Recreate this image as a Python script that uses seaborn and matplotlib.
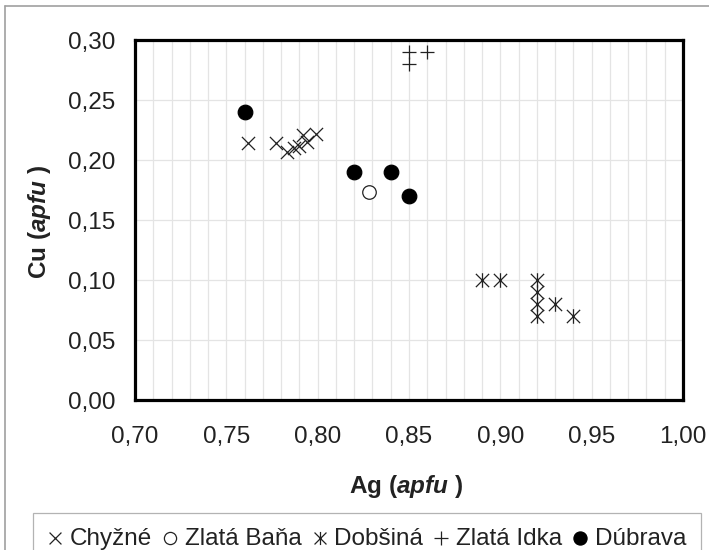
import numpy as np
import pandas as pd
import matplotlib
matplotlib.use("Agg")
import matplotlib.pyplot as plt
import seaborn as sns
from matplotlib.path import Path
from matplotlib.ticker import MultipleLocator, FuncFormatter
from matplotlib.lines import Line2D

# ---- data (Ag vs Cu, apfu) ----
chyzne_ag = [0.762, 0.777, 0.783, 0.787, 0.790, 0.792, 0.794, 0.799]
chyzne_cu = [0.214, 0.214, 0.207, 0.210, 0.212, 0.221, 0.215, 0.222]

zlata_bana_ag = [0.828]
zlata_bana_cu = [0.173]

dobsina_ag = [0.89, 0.90, 0.92, 0.92, 0.92, 0.92, 0.93, 0.94]
dobsina_cu = [0.10, 0.10, 0.10, 0.09, 0.08, 0.07, 0.08, 0.07]

zlata_idka_ag = [0.85, 0.85, 0.86]
zlata_idka_cu = [0.29, 0.28, 0.29]

dubrava_ag = [0.76, 0.82, 0.84, 0.85]
dubrava_cu = [0.24, 0.19, 0.19, 0.17]

x_ticks = [0.70, 0.75, 0.80, 0.85, 0.90, 0.95, 1.00]
y_ticks = [0.00, 0.05, 0.10, 0.15, 0.20, 0.25, 0.30]

sns.set_theme(style="white")
plt.rcParams["font.family"] = ["Liberation Sans", "DejaVu Sans"]
plt.rcParams["mathtext.fontset"] = "custom"
plt.rcParams["mathtext.rm"] = "Liberation Sans"
plt.rcParams["mathtext.bf"] = "Liberation Sans:italic:bold"

fig = plt.figure(figsize=(7.09, 5.50), dpi=100)
W, H = 709, 550
ax = fig.add_axes([135 / W, 1 - 400 / H, 548 / W, 360 / H])

star = Path([(-1, -1), (1, 1), (-1, 1), (1, -1), (0, -1.1), (0, 1.1)],
            [Path.MOVETO, Path.LINETO, Path.MOVETO, Path.LINETO, Path.MOVETO, Path.LINETO])

lw = 0.9
ink = "#222222"
sns.scatterplot(x=chyzne_ag, y=chyzne_cu, ax=ax, marker="x", s=90,
                color=ink, edgecolor=ink, linewidth=lw, label="Chyžné", zorder=3)
sns.scatterplot(x=zlata_bana_ag, y=zlata_bana_cu, ax=ax, marker="o", s=95,
                color="black", facecolor="white", edgecolor=ink, linewidth=lw,
                label="Zlatá Baňa", zorder=3)
sns.scatterplot(x=dobsina_ag, y=dobsina_cu, ax=ax, marker=star, s=110,
                color=ink, edgecolor=ink, linewidth=lw, label="Dobšiná", zorder=3)
sns.scatterplot(x=zlata_idka_ag, y=zlata_idka_cu, ax=ax, marker="+", s=110,
                color=ink, edgecolor=ink, linewidth=lw, label="Zlatá Idka", zorder=3)
sns.scatterplot(x=dubrava_ag, y=dubrava_cu, ax=ax, marker="o", s=110,
                color="black", edgecolor="black", linewidth=lw, label="Dúbrava", zorder=3)

ax.set_xlim(0.70, 1.00)
ax.set_ylim(0.00, 0.30)
ax.set_xticks(x_ticks)
ax.set_yticks(y_ticks)
ax.xaxis.set_minor_locator(MultipleLocator(0.01))
fmt = FuncFormatter(lambda v, p: f"{v:.2f}".replace(".", ","))
ax.xaxis.set_major_formatter(fmt)
ax.yaxis.set_major_formatter(fmt)

ax.grid(True, which="major", axis="y", color="#e4e4e4", linewidth=0.9, zorder=0)
ax.grid(True, which="both", axis="x", color="#e4e4e4", linewidth=0.9, zorder=0)
ax.set_axisbelow(True)

ax.tick_params(axis="both", which="major", direction="out", length=5, width=1,
               color="#909090", labelsize=17.5, labelcolor=ink)
ax.tick_params(axis="x", which="major", pad=14)
ax.tick_params(axis="y", which="major", pad=9)
ax.tick_params(axis="x", which="minor", length=0)
for sp in ax.spines.values():
    sp.set_visible(True)
    sp.set_color("black")
    sp.set_linewidth(2.3)

ax.set_xlabel(r"Ag ($\mathbf{apfu}$ )", fontsize=17.5, fontweight="bold", color=ink)
ax.set_ylabel(r"Cu ($\mathbf{apfu}$ )", fontsize=17.5, fontweight="bold", color=ink)
ax.xaxis.set_label_coords(0.495, -0.203)
ax.yaxis.set_label_coords(-0.150, 0.495)

if ax.legend_ is not None:
    ax.legend_.remove()
handles, labels = ax.get_legend_handles_labels()
leg = fig.legend(handles, labels, loc="upper center", bbox_to_anchor=(367 / W, 1 - 513 / H),
                 ncol=5, fontsize=17.5, frameon=True, fancybox=False, markerscale=0.9,
                 handlelength=0.6, handletextpad=0.3, columnspacing=0.45,
                 borderpad=0.6, borderaxespad=0)
leg.get_frame().set_edgecolor("#a0a0a0")
leg.get_frame().set_linewidth(0.9)
for t in leg.get_texts():
    t.set_color(ink)

# figure outer border (top and left)
fig.add_artist(Line2D([5 / W, 1], [1 - 6 / H, 1 - 6 / H], color="#a0a0a0", lw=1.2))
fig.add_artist(Line2D([5 / W, 5 / W], [0, 1 - 6 / H], color="#a0a0a0", lw=1.2))

fig.savefig("out.png", dpi=100)
